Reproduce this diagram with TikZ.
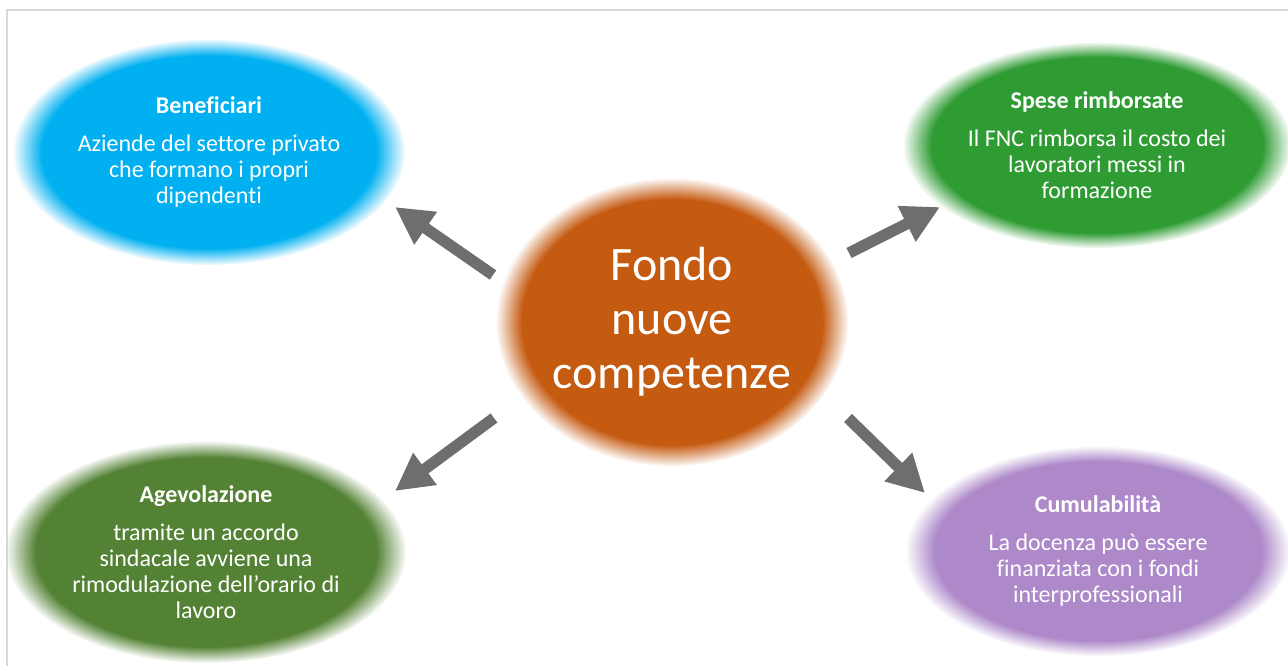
\documentclass[tikz,border=0pt]{standalone}
\usepackage{fontspec}
\setmainfont[Ligatures=NoCommon]{Carlito}
\usetikzlibrary{shapes.geometric,fadings,arrows.meta}
\definecolor{cblue}{HTML}{00B0F0}
\definecolor{cgreenA}{HTML}{2E9B33}
\definecolor{corange}{HTML}{C55A11}
\definecolor{cgreenB}{HTML}{548235}
\definecolor{cpurple}{HTML}{AD89C9}
\definecolor{arrowgrey}{HTML}{6E6E6E}
\definecolor{bordergrey}{HTML}{D9D9D9}
\begin{document}
\begin{tikzpicture}[x=0.75pt,y=-0.75pt,
  bubble/.style={ellipse, inner sep=0pt, text=white, align=center,
    path fading=circle with fuzzy edge 15 percent,
    font=\fontsize{18}{19.5}\selectfont},
  bigarrow/.style={draw=arrowgrey, line width=8.5pt,
    -{Triangle[width=28pt,length=28pt]}}]
\useasboundingbox (0,0) rectangle (1288,665);
\draw[bordergrey, line width=1.5pt] (7,10) rectangle (1300,680);

\node[bubble, fill=cblue, minimum width=294pt, minimum height=169.5pt] (ben) at (209,152)
  {\textbf{Beneficiari}\\[9pt]Aziende del settore privato\\che formano i propri\\dipendenti};
\node[bubble, fill=cgreenA, minimum width=291pt, minimum height=154.5pt] (spe) at (1097,145)
  {\textbf{Spese rimborsate}\\[9pt]Il FNC rimborsa il costo dei\\lavoratori messi in\\formazione};
\node[bubble, fill=corange, minimum width=264pt, minimum height=216pt,
  font=\fontsize{36}{40.5}\selectfont] (fnc) at (672,322)
  {Fondo\\nuove\\competenze};
\node[bubble, fill=cgreenB, minimum width=300pt, minimum height=166.5pt] (age) at (206,552)
  {\textbf{Agevolazione}\\[9pt]tramite un accordo\\sindacale avviene una\\rimodulazione dell’orario di\\lavoro};
\node[bubble, fill=cpurple, minimum width=288pt, minimum height=157.5pt] (cum) at (1098,551)
  {\textbf{Cumulabilità}\\[9pt]La docenza può essere\\finanziata con i fondi\\interprofessionali};

\coordinate (t1) at (493,275); \coordinate (h1) at (395,207);
\coordinate (t2) at (849,253); \coordinate (h2) at (940,207);
\coordinate (t3) at (494,418); \coordinate (h3) at (395,491);
\coordinate (t4) at (848,418); \coordinate (h4) at (925,493);
\draw[bigarrow] (t1) -- (h1);
\draw[bigarrow] (t2) -- (h2);
\draw[bigarrow] (t3) -- (h3);
\draw[bigarrow] (t4) -- (h4);
\end{tikzpicture}
\end{document}
